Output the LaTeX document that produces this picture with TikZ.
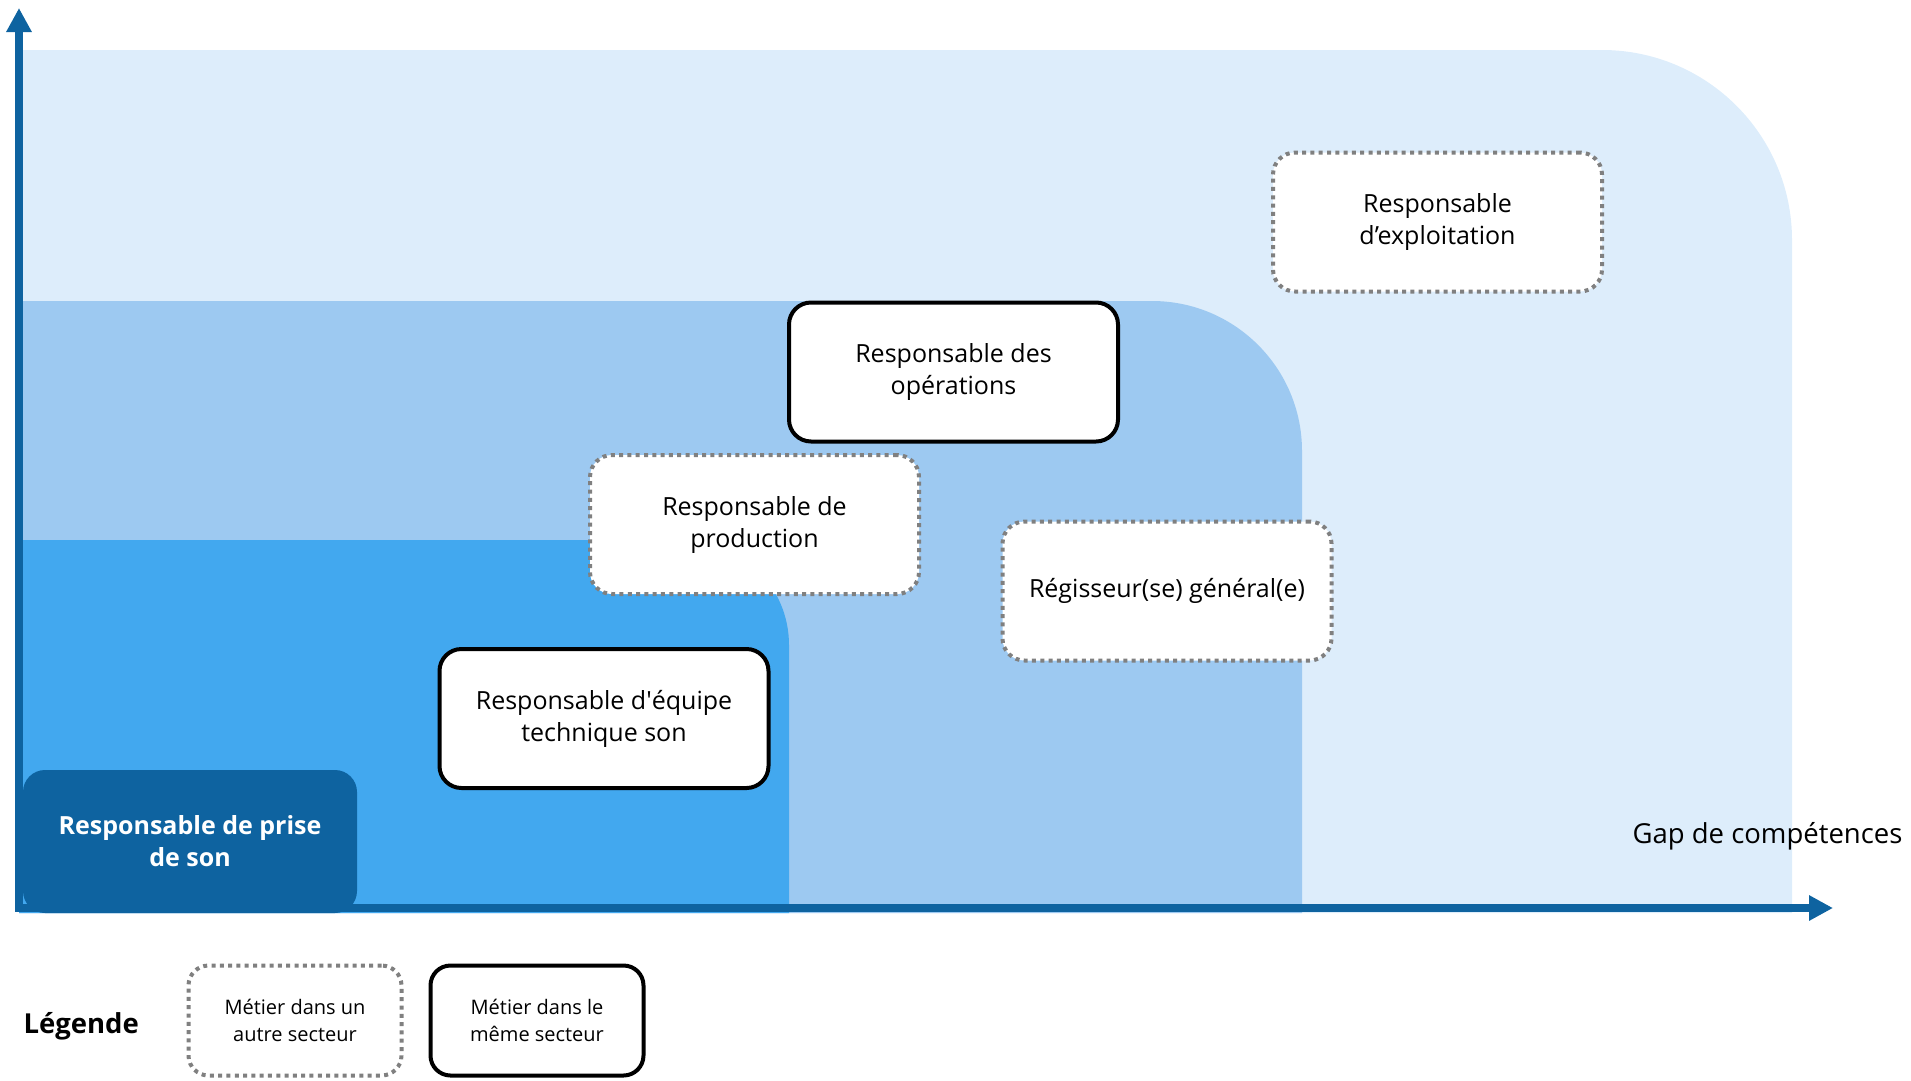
\documentclass[tikz,border=0pt]{standalone}
\usepackage{fontspec}
\setmainfont{Open Sans}
\usepackage{xcolor}
\usetikzlibrary{positioning,arrows.meta}

\definecolor{axisblue}{RGB}{14,99,160}
\definecolor{zonelight}{RGB}{221,237,251}
\definecolor{zonemid}{RGB}{157,201,241}
\definecolor{zonedark}{RGB}{66,168,239}
\definecolor{dotgray}{RGB}{128,128,128}

\tikzset{
    job/.style={rectangle, rounded corners=22pt, fill=white, minimum width=329pt, minimum height=139pt,
        inner sep=0pt, align=center, font=\fontsize{25}{32}\selectfont},
    samejob/.style={job, draw=black, line width=4pt},
    otherjob/.style={job, draw=dotgray, line width=4pt, dash pattern=on 4pt off 4.3pt},
    startjob/.style={job, fill=axisblue, text=white, minimum width=334pt, minimum height=143pt,
        font=\fontsize{25}{32}\selectfont\bfseries},
    legendjob/.style={minimum width=213pt, minimum height=110pt, rounded corners=20pt,
        font=\fontsize{20}{27}\selectfont},
    axis/.style={draw=axisblue, line width=8pt, -{Triangle[width=24pt,length=24pt]}}
}

\begin{document}
\begin{tikzpicture}[x=1pt, y=1pt]
    \useasboundingbox (0,0) rectangle (1911,-1080);

    % Zones
    \fill[zonelight] (19,-913) -- (19,-50) -- (1602,-50) arc[start angle=90, end angle=0, radius=190pt] -- (1792,-913) -- cycle;
    \fill[zonemid] (19,-913) -- (19,-301) -- (1152,-301) arc[start angle=90, end angle=0, radius=150pt] -- (1302,-913) -- cycle;
    \fill[zonedark] (19,-913) -- (19,-540) -- (684,-540) arc[start angle=90, end angle=0, radius=105pt] -- (789,-913) -- cycle;

    % Axes
    \coordinate (origin) at (19,-908);
    \coordinate (ytip) at (19,-8);
    \coordinate (xtip) at (1833,-908);
    \draw[axis] (origin) -- (ytip);
    \draw[axis] ([xshift=-4pt]origin) -- (xtip);
    \node[anchor=east, font=\fontsize{27.5}{32}\selectfont] (gap) at (1906,-836) {Gap de compétences};

    % Jobs
    \node[startjob] (prise) at (190,-841.5) {Responsable de prise\\de son};
    \node[samejob] (equipe) at (604,-718.5) {Responsable d\textquotesingle équipe\\technique son};
    \node[otherjob] (production) at (754.5,-524.5) {Responsable de\\production};
    \node[samejob] (operations) at (953.5,-372) {Responsable des\\opérations};
    \node[otherjob] (regisseur) at (1167,-591) {Régisseur(se) général(e)};
    \node[otherjob] (exploitation) at (1437.5,-222) {Responsable\\d’exploitation};

    % Legend
    \node[anchor=west, font=\fontsize{27.5}{32}\selectfont\bfseries] (legende) at (20,-1026) {Légende};
    \node[otherjob, legendjob] (legother) at (295,-1020.5) {Métier dans un\\autre secteur};
    \node[samejob, legendjob, right=25pt of legother] (legsame) {Métier dans le\\même secteur};
\end{tikzpicture}
\end{document}
